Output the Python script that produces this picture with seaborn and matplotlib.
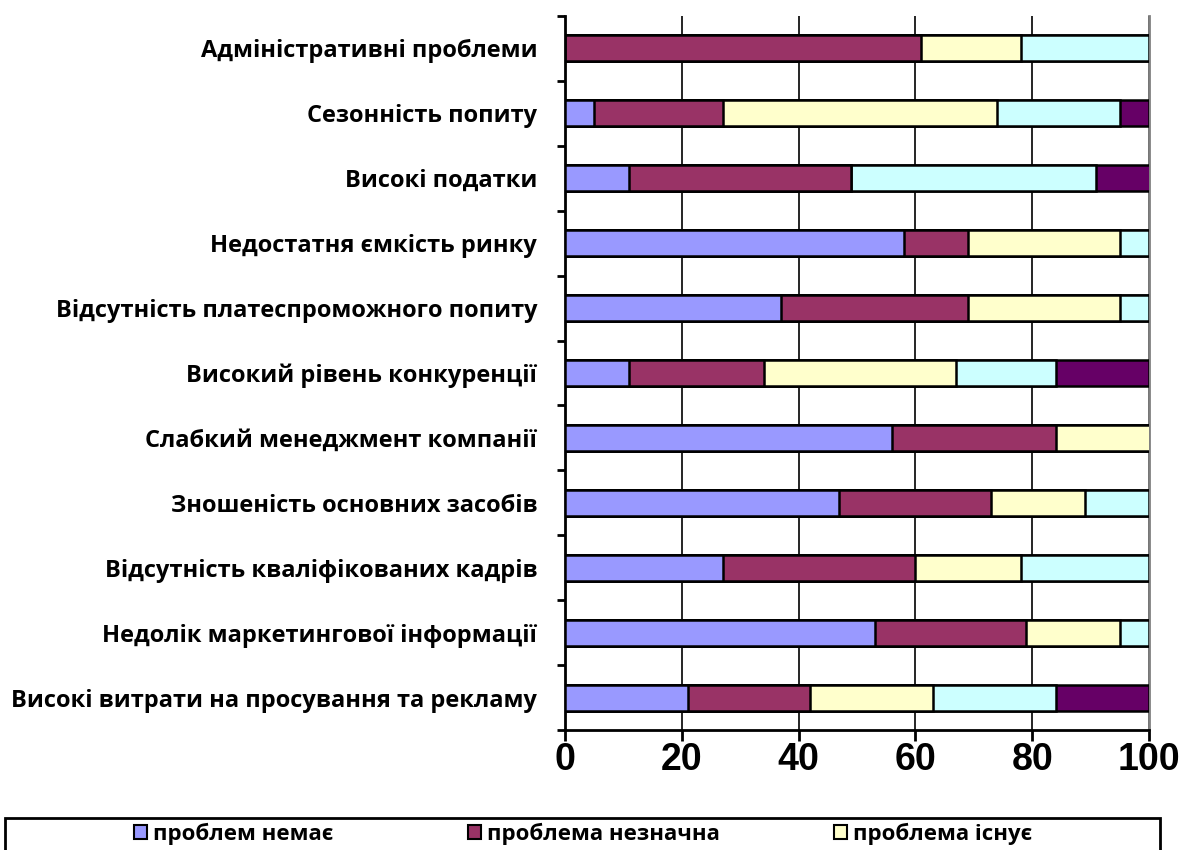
import numpy as np
import pandas as pd
import matplotlib
matplotlib.use("Agg")
import matplotlib.pyplot as plt
from matplotlib.patches import Patch, Rectangle
from matplotlib.ticker import FixedLocator
import seaborn as sns

categories = [
    "Адміністративні проблеми",
    "Сезонність попиту",
    "Високі податки",
    "Недостатня ємкість ринку",
    "Відсутність платеспроможного попиту",
    "Високий рівень конкуренції",
    "Слабкий менеджмент компанії",
    "Зношеність основних засобів",
    "Відсутність кваліфікованих кадрів",
    "Недолік маркетингової інформації",
    "Високі витрати на просування та рекламу",
]
no_problem = [0, 5, 11, 58, 37, 11, 56, 47, 27, 53, 21]
minor_problem = [61, 22, 38, 11, 32, 23, 28, 26, 33, 26, 21]
problem_exists = [17, 47, 0, 26, 26, 33, 17, 16, 18, 16, 21]
significant_problem = [22, 21, 42, 5, 5, 17, 0, 11, 22, 5, 21]
critical_problem = [0, 5, 10, 0, 0, 16, 0, 0, 0, 0, 16]

series_names = [
    "проблем немає",
    "проблема незначна",
    "проблема існує",
    "проблема значна",
    "проблема критична",
]
series_values = [no_problem, minor_problem, problem_exists,
                 significant_problem, critical_problem]
colors = ["#9999FF", "#993366", "#FFFFCC", "#CCFFFF", "#660066"]
x_ticks = [0, 20, 40, 60, 80, 100]

sns.set_theme(style="white")
plt.rcParams["font.family"] = ["Open Sans", "DejaVu Sans"]
plt.rcParams["text.color"] = "black"
plt.rcParams["axes.labelcolor"] = "black"
plt.rcParams["xtick.color"] = "black"
plt.rcParams["ytick.color"] = "black"

W, H = 1183, 850
fig = plt.figure(figsize=(W / 100, H / 100), dpi=100)
ax_left, ax_right, ax_top, ax_bottom = 565, 1149, 16, 730
ax = fig.add_axes([ax_left / W, 1 - ax_bottom / H,
                   (ax_right - ax_left) / W, (ax_bottom - ax_top) / H])

df = pd.DataFrame({"category": categories})
for name, vals in zip(series_names, series_values):
    df[name] = vals

# stacked bars: draw cumulative totals from the longest down to the shortest
cum = df[series_names].cumsum(axis=1)
for i in range(len(series_names) - 1, -1, -1):
    sns.barplot(
        x=cum[series_names[i]], y=df["category"], order=categories,
        orient="y", color=colors[i], saturation=1, width=0.40,
        edgecolor="black", linewidth=1.8, errorbar=None, ax=ax, zorder=3,
    )

ax.set_xlim(0, 100)
ax.set_ylim(len(categories) - 0.5, -0.5)
ax.set_xlabel("")
ax.set_ylabel("")

# vertical gridlines
ax.set_xticks(x_ticks)
ax.xaxis.grid(True, color="black", linewidth=1.2)
ax.yaxis.grid(False)
ax.set_axisbelow(True)

ax.set_xticklabels([str(t) for t in x_ticks], fontfamily="Liberation Sans",
                   fontweight="bold", fontsize=27, color="black")
ax.tick_params(axis="x", bottom=True, direction="out", length=8, width=2,
               color="black", pad=1)

ax.set_yticks(range(len(categories)))
ax.set_yticklabels(categories, fontweight="bold", fontsize=17, color="black")
ax.tick_params(axis="y", which="major", left=False, length=0, pad=20)
ax.yaxis.set_minor_locator(FixedLocator(np.arange(-0.5, len(categories), 1.0)))
ax.tick_params(axis="y", which="minor", left=True, direction="out",
               length=6, width=2, color="black")

ax.spines["top"].set_visible(False)
ax.spines["left"].set_color("black")
ax.spines["left"].set_linewidth(2)
ax.spines["bottom"].set_color("black")
ax.spines["bottom"].set_linewidth(2)
ax.spines["right"].set_color("#808080")
ax.spines["right"].set_linewidth(2)

# legend frame and entries
fig.patches.append(Rectangle((5 / W, -0.1), 1155 / W, 0.1 + 1 - 818 / H,
                             transform=fig.transFigure, fill=False,
                             edgecolor="black", linewidth=2))
handles = [Patch(facecolor=c, edgecolor="black", linewidth=1.5) for c in colors]
order = [0, 3, 1, 4, 2]
fig.legend(
    [handles[k] for k in order], [series_names[k] for k in order],
    ncol=3, loc="upper left", bbox_to_anchor=(134 / W, 1 - 823 / H),
    frameon=False, prop={"weight": "bold", "size": 16},
    handlelength=0.6, handleheight=0.6, handletextpad=0.25,
    columnspacing=4.95, borderaxespad=0, borderpad=0,
)

fig.savefig("out.png", dpi=100)
